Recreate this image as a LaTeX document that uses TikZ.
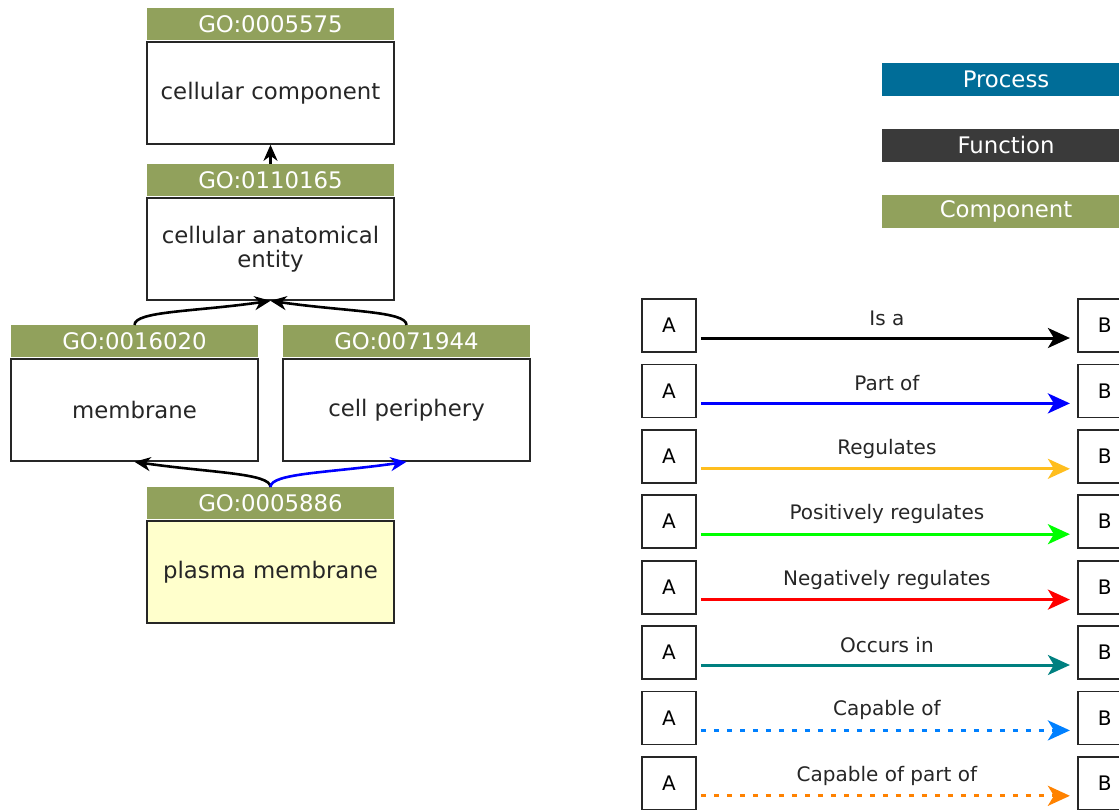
\documentclass[tikz,border=0pt]{standalone}
\usepackage{fontspec}
\setmainfont{DejaVu Sans}
\usetikzlibrary{positioning, arrows.meta}

\begin{document}
\begin{tikzpicture}[x=0.5pt, y=-0.5pt, >={Stealth[length=11pt, width=10pt, inset=3pt]}, font=\fontsize{11.4}{12}\selectfont]
%====Colori===============================================================
	\definecolor{gogreen}{RGB}{145,161,92}
	\definecolor{procblue}{RGB}{0,109,152}
	\definecolor{funcgray}{RGB}{58,58,58}
	\definecolor{pmyellow}{RGB}{255,255,204}
	\definecolor{regorange}{RGB}{255,190,30}
	\definecolor{occteal}{RGB}{0,128,128}
	\definecolor{capblue}{RGB}{0,128,255}
	\definecolor{caporange}{RGB}{255,130,0}
%====Stili nodi===============================================================
	\tikzstyle{goid}=[rectangle, fill=gogreen, text=white, minimum width=123.5pt, minimum height=16pt, inner sep=0pt, anchor=north]
	\tikzstyle{goname}=[rectangle, draw=black!85, line width=1pt, fill=white, text=black!85, minimum width=123.5pt, minimum height=51pt, inner sep=0pt, align=center]
	\tikzstyle{gobar}=[rectangle, text=white, minimum width=124pt, minimum height=16.5pt, inner sep=0pt]
	\tikzstyle{letter}=[rectangle, draw=black!85, line width=0.9pt, minimum width=27pt, minimum height=26.5pt, inner sep=0pt, font=\fontsize{10}{12}\selectfont]
	\tikzstyle{rel}=[->, line width=1.5pt, shorten <=2pt, shorten >=3.5pt]
	\tikzstyle{dots}=[dash pattern=on 2.5pt off 4pt]
	\tikzstyle{lbl}=[midway, yshift=10pt, text=black!85, font=\fontsize{10}{12}\selectfont]
	\tikzstyle{goedge}=[->, line width=1.3pt, >={Stealth[length=8pt, width=7pt, inset=2.5pt]}]
%====Area===============================================================
	\useasboundingbox (0,0) rectangle (1119,809);
	\clip (0,0) rectangle (1119,809);
%====Termini GO===============================================================
	\node[goid]                          (cchd) at (270.5,8)   {GO:0005575};
	\node[goname]                        (cc)   [below=0pt of cchd] {cellular component};
	\node[goid]                          (enthd) at (270.5,164) {GO:0110165};
	\node[goname]                        (ent)  [below=0pt of enthd] {cellular anatomical\\entity};
	\node[goid]                          (memhd) at (134.5,325) {GO:0016020};
	\node[goname]                        (mem)  [below=0pt of memhd] {membrane};
	\node[goid]                          (perhd) at (406.5,325) {GO:0071944};
	\node[goname]                        (per)  [below=0pt of perhd] {cell periphery};
	\node[goid]                          (pmhd) at (270.5,487)  {GO:0005886};
	\node[goname, fill=pmyellow]         (pm)   [below=0pt of pmhd] {plasma membrane};
%====Collegamenti===============================================================
	\draw[goedge] (enthd.north) -- (cc.south);
	\draw[goedge] (memhd.north) .. controls +(0,-14) and +(-76,11) .. (ent.south);
	\draw[goedge] (perhd.north) .. controls +(0,-14) and +(76,11) .. (ent.south);
	\draw[goedge] (pmhd.north) .. controls +(0,-14) and +(76,11) .. (mem.south);
	\draw[goedge, blue] (pmhd.north) .. controls +(0,-14) and +(-76,11) .. (per.south);
%====Legenda ontologie===============================================================
	\node[gobar, fill=procblue]  (proc) at (1006,79.5) {Process};
	\node[gobar, fill=funcgray]  (func) [below=16pt of proc] {Function};
	\node[gobar, fill=gogreen]   (comp) [below=16pt of func] {Component};
%====Legenda relazioni===============================================================
	\node[letter] (a1) at (669,325.5)        {A};
	\node[letter] (a2) [below=5.3pt of a1]   {A};
	\node[letter] (a3) [below=5.3pt of a2]   {A};
	\node[letter] (a4) [below=5.3pt of a3]   {A};
	\node[letter] (a5) [below=5.3pt of a4]   {A};
	\node[letter] (a6) [below=5.3pt of a5]   {A};
	\node[letter] (a7) [below=5.3pt of a6]   {A};
	\node[letter] (a8) [below=5.3pt of a7]   {A};
	\node[letter] (b1) [right=190pt of a1]   {B};
	\node[letter] (b2) [right=190pt of a2]   {B};
	\node[letter] (b3) [right=190pt of a3]   {B};
	\node[letter] (b4) [right=190pt of a4]   {B};
	\node[letter] (b5) [right=190pt of a5]   {B};
	\node[letter] (b6) [right=190pt of a6]   {B};
	\node[letter] (b7) [right=190pt of a7]   {B};
	\node[letter] (b8) [right=190pt of a8]   {B};
	      %from                         stile                       scritte                          to
	\path ([yshift=-6.25pt]a1.east) edge[rel, black]            node[lbl] {Is a}                 ([yshift=-6.25pt]b1.west)
	      ([yshift=-6.25pt]a2.east) edge[rel, blue]             node[lbl] {Part of}              ([yshift=-6.25pt]b2.west)
	      ([yshift=-6.25pt]a3.east) edge[rel, regorange]        node[lbl] {Regulates}            ([yshift=-6.25pt]b3.west)
	      ([yshift=-6.25pt]a4.east) edge[rel, green]            node[lbl] {Positively regulates} ([yshift=-6.25pt]b4.west)
	      ([yshift=-6.25pt]a5.east) edge[rel, red]              node[lbl] {Negatively regulates} ([yshift=-6.25pt]b5.west)
	      ([yshift=-6.25pt]a6.east) edge[rel, occteal]          node[lbl] {Occurs in}            ([yshift=-6.25pt]b6.west)
	      ([yshift=-6.25pt]a7.east) edge[rel, dots, capblue]    node[lbl] {Capable of}           ([yshift=-6.25pt]b7.west)
	      ([yshift=-6.25pt]a8.east) edge[rel, dots, caporange]  node[lbl] {Capable of part of}   ([yshift=-6.25pt]b8.west);
\end{tikzpicture}
\end{document}
